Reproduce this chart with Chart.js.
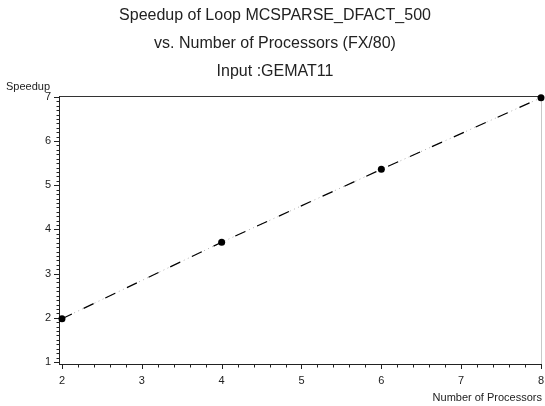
<!DOCTYPE html>
<html>
<head>
<meta charset="utf-8">
<script src="https://cdn.jsdelivr.net/npm/chart.js@4/dist/chart.umd.min.js"></script>
<style>
html,body{margin:0;padding:0;background:#fff;}
#c{display:block;}
</style>
</head>
<body>
<canvas id="c" width="545" height="406"></canvas>
<script>
const titleLines = ["Speedup of Loop MCSPARSE_DFACT_500", "vs. Number of Processors (FX/80)", "Input :GEMAT11"];
const xAxisTitle = "Number of Processors";
const yAxisTitle = "Speedup";
const processors = [2, 4, 6, 8];
const speedup = [1.98, 3.71, 5.36, 6.98];
const xTicks = [2, 3, 4, 5, 6, 7, 8];
const yTicks = [1, 2, 3, 4, 5, 6, 7];
const xMinorStep = 0.2;
const yMinorStep = 0.1;

const FONT = "'Liberation Sans', Arial, Helvetica, sans-serif";
const TEXT = "#222";

const framePlugin = {
  id: 'frame',
  beforeDatasetsDraw(chart) {
    const ctx = chart.ctx;
    const a = chart.chartArea;
    const xs = chart.scales.x, ys = chart.scales.y;
    ctx.save();
    ctx.lineWidth = 1;
    ctx.strokeStyle = '#c8c8c8';
    ctx.beginPath();
    ctx.moveTo(Math.round(a.right) + 0.5, a.top);
    ctx.lineTo(Math.round(a.right) + 0.5, a.bottom);
    ctx.stroke();
    ctx.strokeStyle = '#333';
    ctx.beginPath();
    ctx.moveTo(a.left, Math.round(a.top) + 0.5);
    ctx.lineTo(a.right + 1, Math.round(a.top) + 0.5);
    ctx.stroke();
    ctx.strokeStyle = '#222';
    ctx.beginPath();
    ctx.moveTo(Math.round(a.left) + 0.5, a.top);
    ctx.lineTo(Math.round(a.left) + 0.5, Math.round(a.bottom) + 1);
    ctx.moveTo(a.left, Math.round(a.bottom) + 0.5);
    ctx.lineTo(a.right + 1, Math.round(a.bottom) + 0.5);
    ctx.stroke();
    const lx = Math.round(a.left);
    ctx.beginPath();
    const y0 = yTicks[0], y1 = yTicks[yTicks.length - 1];
    for (let i = 0; i <= Math.round((y1 - y0) / yMinorStep); i++) {
      const v = y0 + i * yMinorStep;
      const py = Math.round(ys.getPixelForValue(v)) + 0.5;
      const major = Math.abs(v - Math.round(v)) < 1e-6;
      ctx.moveTo(lx - (major ? 5 : 2.5), py);
      ctx.lineTo(lx, py);
    }
    const by = Math.round(a.bottom) + 1;
    const x0 = xTicks[0], x1 = xTicks[xTicks.length - 1];
    for (let i = 0; i <= Math.round((x1 - x0) / xMinorStep); i++) {
      const v = x0 + i * xMinorStep;
      const px = Math.round(xs.getPixelForValue(v)) + 0.5;
      const major = Math.abs(v - Math.round(v)) < 1e-6;
      ctx.moveTo(px, by);
      ctx.lineTo(px, by + (major ? 4 : 2.5));
    }
    ctx.stroke();
    ctx.restore();
  },
  afterDraw(chart) {
    const ctx = chart.ctx;
    const a = chart.chartArea;
    const xs = chart.scales.x, ys = chart.scales.y;
    ctx.save();
    ctx.fillStyle = TEXT;
    ctx.font = "16px " + FONT;
    ctx.textAlign = 'center';
    ctx.textBaseline = 'middle';
    const ty = [16, 44, 72];
    titleLines.forEach((t, i) => ctx.fillText(t, 275, ty[i]));
    ctx.font = "11px " + FONT;
    ctx.textAlign = 'right';
    yTicks.forEach(v => ctx.fillText(String(v), a.left - 8, ys.getPixelForValue(v)));
    ctx.textAlign = 'center';
    xTicks.forEach(v => ctx.fillText(String(v), xs.getPixelForValue(v), a.bottom + 17));
    ctx.textAlign = 'left';
    ctx.fillText(yAxisTitle, 6, 87);
    ctx.textAlign = 'right';
    ctx.fillText(xAxisTitle, 542, a.bottom + 34);
    ctx.restore();
  }
};

const pts = processors.map((p, i) => ({x: p, y: speedup[i]}));

new Chart(document.getElementById('c'), {
  type: 'line',
  data: {
    datasets: [{
      data: pts,
      borderColor: '#000',
      borderWidth: 1.2,
      borderDash: [11, 13],
      pointRadius: 3.5,
      pointBackgroundColor: '#000',
      pointBorderColor: '#000',
      pointBorderWidth: 0,
      tension: 0,
      clip: false,
      order: 0
    }, {
      data: pts,
      borderColor: '#b0b0b0',
      borderWidth: 1,
      borderDash: [1, 3.5],
      borderDashOffset: 0,
      pointRadius: 0,
      tension: 0,
      clip: false,
      order: 1
    }]
  },
  options: {
    responsive: false,
    devicePixelRatio: 1,
    animation: false,
    layout: {padding: {top: 96, right: 3, left: 0, bottom: 0}},
    plugins: {legend: {display: false}, title: {display: false}, tooltip: {enabled: false}},
    scales: {
      x: {
        type: 'linear',
        min: 1.9625,
        max: 8.0,
        grid: {display: false, drawTicks: false},
        border: {display: false},
        ticks: {display: false},
        afterFit(s) { s.height = 42; }
      },
      y: {
        type: 'linear',
        min: 0.955,
        max: 7.02,
        grid: {display: false, drawTicks: false},
        border: {display: false},
        ticks: {display: false},
        afterFit(s) { s.width = 59; }
      }
    }
  },
  plugins: [framePlugin]
});
</script>
</body>
</html>
